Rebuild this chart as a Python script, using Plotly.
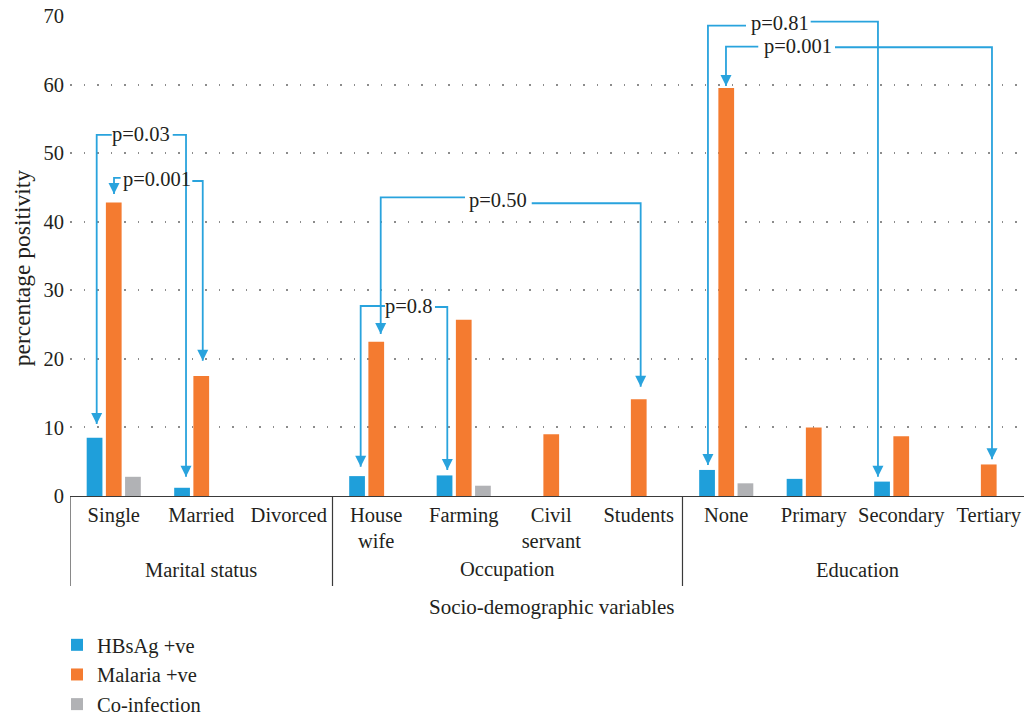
import plotly.graph_objects as go

# Socio-demographic categories (x positions 0..10) and their groups
categories = ["Single", "Married", "Divorced",
              "House<br>wife", "Farming", "Civil<br>servant", "Students",
              "None", "Primary", "Secondary", "Tertiary"]
groups = ["Marital status", "Occupation", "Education"]
group_spans = [(-0.5, 2.5), (2.5, 6.5), (6.5, 10.5)]

# Percentage positivity per category
hbsag = [8.5, 1.2, 0, 2.9, 3.0, 0, 0, 3.8, 2.5, 2.1, 0]
malaria = [42.8, 17.5, 0, 22.5, 25.7, 9.0, 14.1, 59.5, 10.0, 8.7, 4.6]
coinfection = [2.8, 0, 0, 0, 1.5, 0, 0, 1.85, 0, 0, 0]

y_ticks = [0, 10, 20, 30, 40, 50, 60, 70]

# Comparison brackets: label, left leg x / tip, right leg x / tip,
# bracket heights at each side, and the gap left for the label text
brackets = [
    dict(label="p=0.03", xl=-0.195, tl=10.5, xr=0.826, tr=2.81,
         hl=52.65, hr=52.65, gl=-0.023, gr=0.674, lx=0.317, ly=52.65),
    dict(label="p=0.001", xl=0.003, tl=44.04, xr=1.017, tr=19.73,
         hl=46.38, hr=45.94, gl=0.079, gr=0.898, lx=0.494, ly=46.2),
    dict(label="p=0.50", xl=3.051, tl=23.63, xr=6.022, tr=15.94,
         hl=43.56, hr=42.69, gl=4.014, gr=4.777, lx=4.386, ly=43.1),
    dict(label="p=0.8", xl=2.822, tl=4.27, xr=3.812, tr=3.79,
         hl=27.71, hr=27.56, gl=3.1, gr=3.671, lx=3.374, ly=27.6),
    dict(label="p=0.81", xl=6.791, tl=4.52, xr=8.734, tr=2.81,
         hl=68.59, hr=69.17, gl=7.226, gr=7.965, lx=7.614, ly=68.9),
    dict(label="p=0.001", xl=6.997, tl=59.79, xr=10.037, tr=5.35,
         hl=65.52, hr=65.44, gl=7.366, gr=8.243, lx=7.82, ly=65.5),
]

FONT = "Liberation Serif"
TEXT = "#231f20"
BLUE = "#1f9fda"
ORANGE = "#f47b30"
GREY = "#b1b2b5"
LINE_BLUE = "#29a3dd"

x = list(range(len(categories)))

fig = go.Figure()
for name, vals, col in [("HBsAg +ve", hbsag, BLUE),
                        ("Malaria +ve", malaria, ORANGE),
                        ("Co-infection", coinfection, GREY)]:
    fig.add_trace(go.Bar(x=x, y=vals, name=name, marker_color=col,
                         marker_line_width=0, legendgroup=name))

shapes = []
annotations = []

# bracket lines and arrowheads
for b in brackets:
    left = f"M{b['xl']},{b['tl']} L{b['xl']},{b['hl']} L{b['gl']},{b['hl']}"
    right = f"M{b['gr']},{b['hr']} L{b['xr']},{b['hr']} L{b['xr']},{b['tr']}"
    for p in (left, right):
        shapes.append(dict(type="path", xref="x", yref="y", path=p,
                           line=dict(color=LINE_BLUE, width=1.8)))
    for ax, ay in ((b["xl"], b["tl"]), (b["xr"], b["tr"])):
        shapes.append(dict(type="path", xref="x", yref="y",
                           xsizemode="pixel", ysizemode="pixel",
                           xanchor=ax, yanchor=ay,
                           path="M-5.5,11 L5.5,11 L0,0 Z",
                           fillcolor=LINE_BLUE, line=dict(width=0)))
    annotations.append(dict(x=b["lx"], y=b["ly"], xref="x", yref="y",
                            text=b["label"], showarrow=False,
                            font=dict(family=FONT, size=20.5, color=TEXT)))

# group dividers under the category axis
for x0 in (-0.5, 2.5, 6.5, 10.5):
    shapes.append(dict(type="line", xref="x", yref="paper",
                       x0=x0, x1=x0, y0=0, y1=-0.1875,
                       line=dict(color="#3a3a3a", width=1.2)))

for g, (a, c) in zip(groups, group_spans):
    annotations.append(dict(x=(a + c) / 2, y=-0.154, xref="x", yref="paper",
                            text=g, showarrow=False, yanchor="middle",
                            font=dict(family=FONT, size=20.5, color=TEXT)))

annotations.append(dict(x=0.505, y=-0.231, xref="paper", yref="paper",
                        text="Socio-demographic variables", showarrow=False,
                        yanchor="middle",
                        font=dict(family=FONT, size=21, color=TEXT)))
annotations.append(dict(x=-0.05, y=0.475, xref="paper", yref="paper",
                        text="percentage positivity", showarrow=False,
                        textangle=-90, xanchor="center", yanchor="middle",
                        font=dict(family=FONT, size=23.5, color=TEXT)))

fig.update_layout(
    width=1024, height=716,
    margin=dict(l=70, r=0, t=16, b=220, autoexpand=False),
    paper_bgcolor="white", plot_bgcolor="white",
    barmode="group", bargap=0.342, bargroupgap=0.18,
    font=dict(family=FONT, size=20.5, color=TEXT),
    shapes=shapes, annotations=annotations,
    showlegend=True,
    legend=dict(orientation="v", x=-0.0136, y=0.1271, xanchor="left",
                yanchor="top", yref="container",
                font=dict(family=FONT, size=20.5, color=TEXT),
                tracegroupgap=0, bgcolor="rgba(0,0,0,0)"),
    xaxis=dict(range=[-0.5, 10.403], tickmode="array", tickvals=x,
               ticktext=categories, showgrid=False, zeroline=False,
               showline=True, linecolor="#3a3a3a", linewidth=1.2,
               ticks="", tickfont=dict(family=FONT, size=20.5, color=TEXT)),
    yaxis=dict(range=[0, 70], tickvals=y_ticks, showgrid=True,
               gridcolor="#8c8c8c", gridwidth=1.5, griddash="1.5px,12px",
               zeroline=False, showline=False, ticks="",
               ticklabelstandoff=5,
               tickfont=dict(family=FONT, size=20.5, color=TEXT)),
)

fig.write_html("out.html")
